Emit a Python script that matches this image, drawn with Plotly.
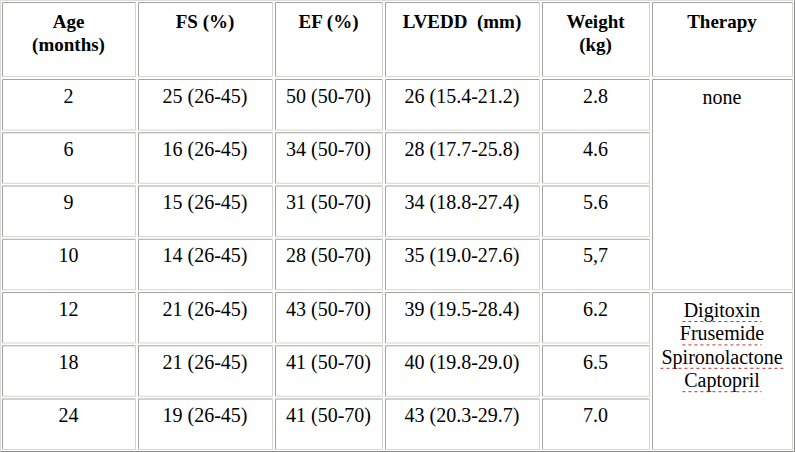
import plotly.graph_objects as go

# ---------------- data ----------------
headers = ["Age<br>(months)", "FS (%)", "EF (%)", "LVEDD\u00a0 (mm)", "Weight<br>(kg)", "Therapy"]
age = ["2", "6", "9", "10", "12", "18", "24"]
fs = [25, 16, 15, 14, 21, 21, 19]
fs_ref = ["26-45"] * 7
ef = [50, 34, 31, 28, 43, 41, 41]
ef_ref = ["50-70"] * 7
lvedd = [26, 28, 34, 35, 39, 40, 43]
lvedd_ref = ["15.4-21.2", "17.7-25.8", "18.8-27.4", "19.0-27.6",
             "19.5-28.4", "19.8-29.0", "20.3-29.7"]
weight = ["2.8", "4.6", "5.6", "5,7", "6.2", "6.5", "7.0"]
therapy = ["none", "Digitoxin<br>Frusemide<br>Spironolactone<br>Captopril"]
therapy_span = [(0, 4), (4, 7)]          # row ranges covered by each therapy cell
spelling_flagged = [False, True]          # drug names carry a spell-check underline

# ---------------- layout constants ----------------
W, H = 795, 452
col_w = [133, 134, 107, 154, 107, 140]
x_start, col_gap = 2, 3
header_h = 74
row_h, row_gap = 50.5, 2.75
y_start = 2
text_off = 18.5      # text centre below cell top
head_off = 21
line_h_head = 23
line_h_body = 23.4
FONT = "Liberation Serif, Times New Roman, serif"
DARK, LIGHT = "#a2a29f", "#d4d4d0"

col_left = []
x = x_start
for w in col_w:
    col_left.append(x)
    x += w + col_gap
col_right = [l + w for l, w in zip(col_left, col_w)]
col_mid = [(l + r) / 2 for l, r in zip(col_left, col_right)]

row_top = []
y = y_start + header_h + col_gap
for i in range(len(age)):
    row_top.append(y)
    y += row_h + row_gap
row_bot = [t + row_h for t in row_top]

# body columns as text
body_cols = [
    age,
    [f"{v} ({r})" for v, r in zip(fs, fs_ref)],
    [f"{v} ({r})" for v, r in zip(ef, ef_ref)],
    [f"{v} ({r})" for v, r in zip(lvedd, lvedd_ref)],
    weight,
]

shapes = []


def cell(L, T, R, B):
    L, T, R, B = L + 0.5, T + 0.5, R + 0.5, B + 0.5
    for (x0, y0, x1, y1, c) in [(L, T, R, T, DARK), (L, T, L, B, DARK),
                                (L, B, R, B, LIGHT), (R, T, R, B, LIGHT)]:
        shapes.append(dict(type="line", xref="x", yref="y", x0=x0, y0=y0, x1=x1, y1=y1,
                           line=dict(color=c, width=1), layer="below"))


# outer table border (outset)
for (x0, y0, x1, y1, c) in [(0.5, 0.5, W - 0.5, 0.5, "#dcdcda"), (0.5, 0.5, 0.5, H - 0.5, "#dcdcda"),
                            (0.5, H - 0.5, W - 0.5, H - 0.5, "#8a8a87"), (W - 0.5, 0.5, W - 0.5, H - 0.5, "#8a8a87")]:
    shapes.append(dict(type="line", xref="x", yref="y", x0=x0, y0=y0, x1=x1, y1=y1,
                       line=dict(color=c, width=1), layer="below"))

# header cells
for c in range(len(headers)):
    cell(col_left[c], y_start, col_right[c], y_start + header_h)
# body cells
for c in range(len(body_cols)):
    for r in range(len(age)):
        cell(col_left[c], row_top[r], col_right[c], row_bot[r])
# merged therapy cells
tc = len(headers) - 1
for (r0, r1) in therapy_span:
    cell(col_left[tc], row_top[r0], col_right[tc], row_bot[r1 - 1])

fig = go.Figure()

# header text
hx, hy, ht = [], [], []
for c, h in enumerate(headers):
    for k, line in enumerate(h.split("<br>")):
        hx.append(col_mid[c])
        hy.append(y_start + head_off + k * line_h_head)
        ht.append(line)
fig.add_trace(go.Scatter(x=hx, y=hy, text=ht, mode="text", textposition="middle center",
                         textfont=dict(family=FONT, size=19, color="#000000", weight="bold"),
                         hoverinfo="skip", showlegend=False))

# body text
bx, by, bt = [], [], []
for c, col in enumerate(body_cols):
    for r, v in enumerate(col):
        bx.append(col_mid[c])
        by.append(row_top[r] + text_off)
        bt.append(v)
for (r0, r1), t, flag in zip(therapy_span, therapy, spelling_flagged):
    for k, line in enumerate(t.split("<br>")):
        ty = row_top[r0] + text_off + 1.5 + k * line_h_body
        bx.append(col_mid[tc])
        by.append(ty)
        bt.append(line)
        if flag:
            half = len(line) * 0.44 * 20 / 2
            shapes.append(dict(type="line", xref="x", yref="y",
                               x0=col_mid[tc] - half, x1=col_mid[tc] + half,
                               y0=ty + 9.5, y1=ty + 9.5,
                               line=dict(color="#c83030", width=1, dash="dot")))
fig.add_trace(go.Scatter(x=bx, y=by, text=bt, mode="text", textposition="middle center",
                         textfont=dict(family=FONT, size=20, color="#000000"),
                         hoverinfo="skip", showlegend=False))

fig.update_layout(
    width=W, height=H, autosize=False,
    margin=dict(l=0, r=0, t=0, b=0, pad=0),
    paper_bgcolor="white", plot_bgcolor="white",
    xaxis=dict(range=[0, W], visible=False, fixedrange=True),
    yaxis=dict(range=[H, 0], visible=False, fixedrange=True),
    shapes=shapes,
)

fig.write_html("out.html", config={"displayModeBar": False, "staticPlot": True},
               post_script="document.body.style.margin='0';document.body.style.overflow='hidden';")
